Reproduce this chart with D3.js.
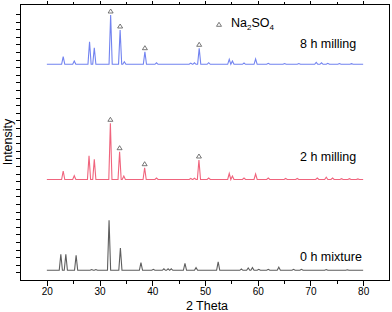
<html>
<head>
  <style>
  body { margin: 0; background: #fff; }
  text { font-family: "Liberation Sans", Arial, sans-serif; }
  .axis path, .axis line { stroke: #000; stroke-width: 1; shape-rendering: crispEdges; }
  </style>
  <script src="https://d3js.org/d3.v7.min.js"></script>
</head>
<body>
  <script type="text/javascript">
  // peak positions (2 theta) and heights (counts above baseline)
  var pos8 = [23.1, 25.2, 28.1, 29.0, 32.1, 33.9, 34.7, 38.6, 40.8, 47.3, 48.0, 48.9, 50.7, 54.6, 55.2, 57.4, 59.6, 62.0, 65.1, 67.8, 71.1, 72.1, 73.3, 75.5, 77.8];
  var int8 = [152, 66, 452, 332, 986, 686, 52, 252, 30, 24, 30, 320, 32, 100, 66, 26, 106, 20, 16, 16, 40, 30, 20, 14, 12];
  var pos2 = [23.1, 25.2, 28.0, 29.0, 32.05, 33.8, 34.6, 38.55, 40.8, 47.3, 48.0, 48.85, 50.7, 54.6, 55.2, 57.4, 59.6, 62.0, 65.3, 67.5, 71.3, 73.0, 74.2, 75.9, 77.4, 79.0];
  var int2 = [170, 76, 476, 404, 1124, 556, 70, 236, 30, 20, 24, 390, 30, 120, 70, 30, 110, 30, 20, 20, 30, 44, 30, 16, 16, 12];
  var pos0 = [22.65, 23.6, 25.55, 28.5, 29.3, 31.8, 33.95, 37.85, 40.2, 42.2, 43.0, 43.6, 46.2, 48.3, 52.5, 56.9, 58.2, 59.0, 60.2, 62.0, 64.0, 66.8, 68.3, 73.0, 77.0];
  var int0 = [320, 320, 300, 16, 16, 1000, 446, 154, 20, 30, 30, 30, 140, 54, 170, 26, 46, 54, 20, 20, 60, 20, 20, 16, 10];
  // Na2SO4 peaks marked with a triangle
  var marked = [32.1, 33.9, 38.6, 48.9];
  var marked2 = [32.05, 33.8, 38.55, 48.85];
  var offsets = [4160, 1856, 40];
  var names = ["8 h milling", "2 h milling", "0 h mixture"];
  var colors = ["#7283f0", "#f0647d", "#5e5e5e"];
  var xMajor = [20, 30, 40, 50, 60, 70, 80];
  var xMinor = [25, 35, 45, 55, 65, 75];
  var yTicks = d3.range(0, 5169, 152);

  var screen = {width: 392, height: 312};
  var svg = d3.select("body").append("svg")
    .attr("width", screen.width)
    .attr("height", screen.height);

  var xScale = d3.scaleLinear().domain([15, 85]).range([20.5, 389.5]);
  var yScale = d3.scaleLinear().domain([-164, 5356]).range([280.5, 4.5]);

  var hw = 0.3;
  var buildPoints = function(p, h){
    var pts = [[20, 0]];
    for (var i = 0; i < p.length; i++) {
      pts.push([p[i] - hw, 0]);
      pts.push([p[i], h[i]]);
      pts.push([p[i] + hw, 0]);
    }
    pts.push([80, 0]);
    return pts;
  };

  var series = [
    {pos: pos8, val: int8, mark: marked},
    {pos: pos2, val: int2, mark: marked2},
    {pos: pos0, val: int0, mark: []}
  ];

  series.forEach(function(s, k){
    var off = offsets[k];
    var line = d3.line()
      .x(function(d){ return xScale(d[0]); })
      .y(function(d){ return yScale(d[1] + off); });
    svg.append("path")
      .datum(buildPoints(s.pos, s.val))
      .attr("d", line)
      .attr("fill", "none")
      .attr("stroke", colors[k])
      .attr("stroke-width", 1.1);

    // triangles above the marked peaks
    s.mark.forEach(function(m){
      var h = s.val[s.pos.indexOf(m)];
      var cx = xScale(m), by = yScale(h + off) - 2;
      svg.append("path")
        .attr("d", "M" + (cx - 2.5) + "," + by + "L" + (cx + 2.5) + "," + by + "L" + cx + "," + (by - 4) + "Z")
        .attr("fill", "none")
        .attr("stroke", "#555")
        .attr("stroke-width", 0.8);
    });
  });

  // series labels
  var labelY = [48, 161, 261];
  names.forEach(function(n, k){
    svg.append("text")
      .attr("x", 300)
      .attr("y", labelY[k])
      .style("font-size", "12.5px")
      .text(n);
  });

  // legend
  svg.append("path")
    .attr("d", "M216.5,26.3L221.5,26.3L219,22.3Z")
    .attr("fill", "none")
    .attr("stroke", "#555")
    .attr("stroke-width", 0.8);
  var leg = svg.append("text").attr("x", 231).attr("y", 27).style("font-size", "12.5px");
  leg.append("tspan").text("Na");
  leg.append("tspan").attr("dy", 3).style("font-size", "8px").text("2");
  leg.append("tspan").attr("dy", -3).text("SO");
  leg.append("tspan").attr("dy", 3).style("font-size", "8px").text("4");

  // axes
  svg.append("g").attr("class", "axis")
    .attr("transform", "translate(0,280.5)")
    .call(d3.axisBottom(xScale).tickValues(xMajor).tickSize(5).tickSizeOuter(0).tickPadding(2))
    .call(function(g){ g.select(".domain").remove(); })
    .selectAll("text").style("font-size", "10px").style("font-family", "Liberation Sans, Arial").attr("fill", "#000");
  svg.append("g").attr("class", "axis")
    .attr("transform", "translate(0,280.5)")
    .call(d3.axisBottom(xScale).tickValues(xMinor).tickSize(3).tickFormat(""))
    .call(function(g){ g.select(".domain").remove(); });
  svg.append("g").attr("class", "axis")
    .attr("transform", "translate(0,4.5)")
    .call(d3.axisTop(xScale).tickValues(xMajor).tickSize(4).tickFormat(""))
    .call(function(g){ g.select(".domain").remove(); });
  svg.append("g").attr("class", "axis")
    .attr("transform", "translate(0,4.5)")
    .call(d3.axisTop(xScale).tickValues(xMinor).tickSize(2.5).tickFormat(""))
    .call(function(g){ g.select(".domain").remove(); });
  svg.append("g").attr("class", "axis")
    .attr("transform", "translate(20.5,0)")
    .call(d3.axisLeft(yScale).tickValues(yTicks).tickSize(5).tickFormat(""))
    .call(function(g){ g.select(".domain").remove(); });

  // frame
  svg.append("rect")
    .attr("x", 20.5).attr("y", 4.5)
    .attr("width", 369).attr("height", 276)
    .attr("fill", "none").attr("stroke", "#000").attr("stroke-width", 1);

  // axis titles
  svg.append("text")
    .attr("x", 207).attr("y", 309.5)
    .attr("text-anchor", "middle")
    .style("font-size", "12.5px")
    .text("2 Theta");
  svg.append("text")
    .attr("transform", "translate(11.5,142) rotate(-90)")
    .attr("text-anchor", "middle")
    .style("font-size", "12.5px")
    .text("Intensity");
  </script>
</body>
</html>
